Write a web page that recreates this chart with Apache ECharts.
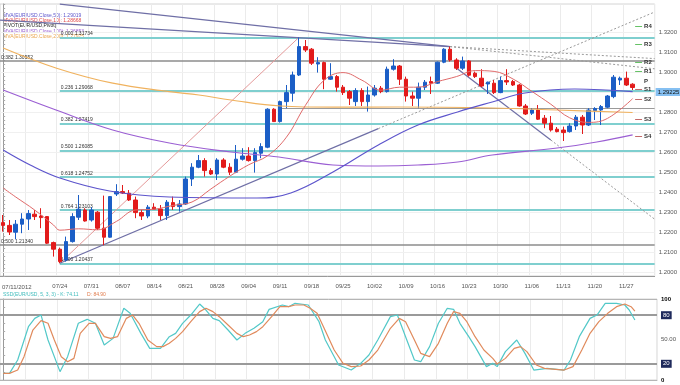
<!DOCTYPE html>
<html><head><meta charset="utf-8">
<script src="https://cdn.jsdelivr.net/npm/echarts@6/dist/echarts.min.js"></script>
<style>html,body{margin:0;padding:0;background:#fff}#c{width:680px;height:385px}</style>
</head><body><div id="c"></div>
<script>
// ---------- data ----------
const startDate = [2012, 6, 11];   // 2012-07-11, daily trading sessions
const nSlots = 104;                // 101 sessions + empty room on the right
const tickLabels = ['07/24','07/31','08/07','08/14','08/21','08/28','09/04','09/11','09/18','09/25','10/02','10/09','10/16','10/23','10/30','11/06','11/13','11/20','11/27'];
const gridDates = ['07/17'].concat(tickLabels);
const priceTicks = [1.20,1.21,1.22,1.23,1.24,1.25,1.26,1.27,1.28,1.29,1.30,1.31,1.32];
// [open, close, low, high]
const candles = [
[1.2247,1.2233,1.2202,1.2285],[1.2233,1.2200,1.2185,1.2260],[1.2199,1.2239,1.2164,1.2260],[1.2239,1.2265,1.2194,1.2294],[1.2265,1.2292,1.2210,1.2310],
[1.2289,1.2277,1.2260,1.2310],[1.2280,1.2272,1.2219,1.2319],[1.2277,1.2144,1.2140,1.2280],[1.2147,1.2114,1.2077,1.2152],[1.2114,1.2052,1.2044,1.2122],
[1.2060,1.2152,1.2052,1.2177],[1.2152,1.2277,1.2147,1.2294],[1.2274,1.2314,1.2260,1.2385],[1.2310,1.2255,1.2252,1.2319],[1.2260,1.2310,1.2252,1.2324],
[1.2299,1.2219,1.2210,1.2305],[1.2219,1.2174,1.2134,1.2382],[1.2174,1.2377,1.2172,1.2380],[1.2390,1.2402,1.2380,1.2439],[1.2402,1.2395,1.2390,1.2435],
[1.2394,1.2360,1.2355,1.2410],[1.2360,1.2297,1.2269,1.2377],[1.2297,1.2280,1.2260,1.2310],[1.2280,1.2324,1.2269,1.2335],[1.2324,1.2314,1.2310,1.2344],
[1.2315,1.2282,1.2260,1.2335],[1.2282,1.2349,1.2260,1.2360],[1.2347,1.2327,1.2310,1.2377],[1.2327,1.2340,1.2302,1.2360],[1.2340,1.2465,1.2335,1.2477],
[1.2465,1.2524,1.2430,1.2544],[1.2524,1.2557,1.2519,1.2585],[1.2557,1.2507,1.2477,1.2569],[1.2507,1.2490,1.2485,1.2519],[1.2490,1.2560,1.2460,1.2569],
[1.2560,1.2524,1.2519,1.2569],[1.2524,1.2499,1.2485,1.2544],[1.2499,1.2564,1.2494,1.2635],[1.2564,1.2580,1.2557,1.2619],[1.2580,1.2557,1.2552,1.2624],
[1.2557,1.2597,1.2497,1.2619],[1.2594,1.2627,1.2569,1.2644],[1.2624,1.2814,1.2619,1.2819],[1.2814,1.2752,1.2750,1.2819],[1.2752,1.2852,1.2747,1.2857],
[1.2852,1.2897,1.2819,1.2935],[1.2894,1.2985,1.2852,1.3002],[1.2985,1.3127,1.2980,1.3173],[1.3127,1.3110,1.3100,1.3160],[1.3114,1.3044,1.3035,1.3120],
[1.3040,1.3047,1.2997,1.3074],[1.3047,1.2964,1.2914,1.3052],[1.2964,1.2977,1.2960,1.3044],[1.2977,1.2924,1.2902,1.2985],[1.2924,1.2897,1.2885,1.2935],
[1.2902,1.2869,1.2835,1.2910],[1.2852,1.2907,1.2830,1.2919],[1.2907,1.2852,1.2830,1.2919],[1.2852,1.2885,1.2802,1.2927],[1.2885,1.2919,1.2877,1.2935],
[1.2919,1.2902,1.2894,1.2930],[1.2902,1.3014,1.2897,1.3027],[1.3014,1.3030,1.3007,1.3064],[1.3030,1.2964,1.2935,1.3035],[1.2964,1.2880,1.2852,1.2977],
[1.2880,1.2869,1.2830,1.2902],[1.2869,1.2924,1.2819,1.2947],[1.2924,1.2949,1.2910,1.2960],[1.2952,1.2944,1.2890,1.2977],[1.2944,1.3049,1.2940,1.3052],
[1.3049,1.3114,1.3044,1.3119],[1.3114,1.3060,1.3052,1.3127],[1.3060,1.3019,1.3010,1.3069],[1.3019,1.3055,1.3010,1.3077],[1.3055,1.2984,1.2977,1.3060],
[1.2994,1.2977,1.2970,1.3002],[1.2969,1.2930,1.2924,1.3014],[1.2940,1.2949,1.2890,1.2952],[1.2944,1.2897,1.2890,1.2960],[1.2897,1.2957,1.2894,1.2977],
[1.2957,1.2950,1.2935,1.3014],[1.2952,1.2935,1.2930,1.2960],[1.2935,1.2830,1.2827,1.2940],[1.2830,1.2790,1.2785,1.2840],[1.2794,1.2810,1.2785,1.2820],
[1.2810,1.2764,1.2760,1.2835],[1.2769,1.2744,1.2719,1.2785],[1.2744,1.2710,1.2702,1.2780],[1.2714,1.2702,1.2698,1.2725],[1.2710,1.2697,1.2655,1.2727],
[1.2702,1.2730,1.2697,1.2744],[1.2730,1.2774,1.2710,1.2785],[1.2774,1.2735,1.2690,1.2785],[1.2735,1.2810,1.2730,1.2819],[1.2807,1.2817,1.2760,1.2824],
[1.2810,1.2827,1.2735,1.2835],[1.2824,1.2880,1.2819,1.2885],[1.2877,1.2974,1.2869,1.2985],[1.2960,1.2969,1.2935,1.2977],[1.2969,1.2935,1.2930,1.3002],
[1.2939,1.29225,1.2910,1.2944]
];
const lastClose = 1.29225;
// moving averages: [session index, value]
const ma10 = [[0,1.2420],[2,1.2375],[5,1.2310],[8,1.2235],[9,1.2209],[12,1.2216],[15,1.2211],[18,1.2253],[21,1.2310],[24,1.2314],[27,1.2333],[30,1.2350],[33,1.2415],[36,1.2479],[39,1.2536],[42,1.2581],[45,1.2674],[48,1.2832],[51,1.2959],[54,1.2997],[57,1.2959],[60,1.2909],[63,1.2924],[66,1.2924],[69,1.2952],[72,1.2977],[75,1.3007],[78,1.3003],[81,1.2965],[84,1.2903],[87,1.2839],[90,1.2771],[93,1.2748],[96,1.2768],[100,1.28668]];
const ma50 = [[0,1.2610],[4.3,1.2535],[9,1.2470],[16.9,1.2405],[26.4,1.2375],[40.3,1.2370],[45.7,1.2395],[52.4,1.2500],[59.6,1.2635],[65.9,1.2735],[72.2,1.2800],[77.7,1.2850],[82.9,1.2895],[90.8,1.2915],[100,1.29019]];
const ma100 = [[0,1.2910],[8.4,1.2810],[17.4,1.2710],[26.4,1.2645],[36.2,1.2600],[43.8,1.2575],[52.4,1.2535],[59.6,1.2530],[65.9,1.2535],[72.2,1.2550],[77.7,1.2585],[88,1.2620],[94.3,1.2650],[100,1.26853]];
const ma200 = [[0,1.3120],[8.5,1.3019],[17.4,1.2944],[26.4,1.2902],[31.1,1.2885],[36.2,1.2860],[44.1,1.2830],[52.4,1.2824],[62.7,1.2825],[77.7,1.2820],[88,1.2810],[100,1.27975]];
// Fibonacci levels
const fibMain = [['0.000',1.31734],['0.236',1.29068],['0.382',1.27419],['0.500',1.26085],['0.618',1.24752],['0.764',1.23103],['1.000',1.20437]];
const fibGray = [['0.382',1.30552],['0.500',1.21340]];
const extraLevel = 1.2818;
// pivot levels
const pivots = [['R4',1.3230],['R3',1.31385],['R2',1.30465],['R1',1.30035],['P',1.2955],['S1',1.29135],['S2',1.28635],['S3',1.2765],['S4',1.26765]];
// trend lines: [solid start, solid end (= dotted start), dotted end]
const trendA = [[-0.5,1.3259],[71,1.3127],[103.5,1.3067]];
const trendB = [[9,1.3339],[71,1.3127],[103.5,1.3016]];
const trendUp = [[9,1.20437],[59.6,1.2717],[103.5,1.3300]];
const trendDown = [[72,1.3020],[87,1.2660],[103.5,1.2264]];
const fibDiag = [[9,1.20437],[47,1.31734]];
// slow stochastic (5,3,3)
const stochK = [[0,8.2],[1,8.2],[2.3,24.7],[4,65.8],[5,76.1],[6,80.2],[7.1,49.4],[9,10.3],[10.2,28.8],[11.9,70],[13.3,74.9],[14.6,70],[16,43.2],[17.4,51.4],[19.1,88.5],[20.1,82.3],[21.8,57.6],[23.2,39.1],[24.9,39.1],[26.3,53.5],[27.3,57.6],[28.4,70],[29.7,80.2],[31.1,93.8],[32.1,86.4],[33.2,76.1],[34.2,73.3],[35.6,61.7],[37,49.4],[38.3,57.6],[39.7,63.8],[41.1,72],[42.1,87.2],[44.2,92.6],[45.2,90.5],[46.2,94.7],[48.3,92.6],[50,72],[51,49.4],[53.1,18.5],[55.1,12.3],[56.6,20.6],[57.9,30.9],[59.3,49.4],[61.3,78.2],[62.4,80.2],[63.7,53.5],[65.1,24.7],[66.1,22.6],[67.5,41.2],[68.9,70],[70.3,88.5],[71.3,87.2],[72.3,70],[73.7,53.5],[74.7,41.2],[76.5,16.5],[77.5,20.6],[78.2,16.5],[79.5,35],[81.3,49.4],[82.6,32.9],[84,12.3],[86.1,14.4],[88.8,12.3],[89.8,24.7],[91.2,53.5],[92.9,76.1],[94,80.2],[95.3,94.7],[97.1,94.7],[98.4,92.6],[99.1,86.4],[100,74.11]];
const stochD = [[0,8.2],[1,8.2],[2.3,12.3],[3.3,28.8],[4.7,61.7],[6,73.3],[7.1,70],[8.1,49.4],[9.2,28.8],[10.2,22.6],[11.2,26.7],[12.2,57.6],[13.6,70],[14.6,70],[16,53.5],[17,51.4],[18.1,53.5],[19.5,76.1],[20.5,80.2],[21.5,70],[22.9,49.4],[24.3,41.2],[25.3,41.2],[26.3,45.3],[27.3,51.4],[28.4,59.7],[29.7,72],[31.1,84.4],[32.1,88.5],[33.2,84.4],[34.2,78.2],[35.6,67.9],[37,57.6],[38,53.5],[39,55.6],[40.1,59.7],[41.1,65.8],[42.5,78.2],[43.8,90.5],[45.2,90.5],[46.2,92.6],[47.6,92.6],[48.6,88.5],[49.7,82.3],[50.7,65.8],[52.4,37],[53.8,20.6],[55.1,16.5],[56.6,17.3],[57.9,24.7],[59.3,37],[61.3,63.8],[62.7,76.1],[63.7,72],[65.1,49.4],[66.1,32.9],[67.5,28.8],[68.9,45.3],[70.3,70],[71.3,84.4],[72.3,82.3],[73.4,72],[74.7,53.5],[76.1,37],[77.5,26.7],[78.2,19.8],[79.5,26.7],[80.9,39.1],[81.9,41.2],[82.9,35],[84.4,18.5],[85.7,14.4],[88.8,12.3],[90.2,16.5],[91.6,37],[92.9,57.6],[94.3,72],[95.7,82.3],[97.1,90.5],[98.4,93.8],[99.4,90.5],[100,84.9]];
const stochLevels = [20, 80];

// ---------- build ----------
const cats = [];
(function(){
  const d = new Date(Date.UTC(startDate[0], startDate[1], startDate[2]));
  while (cats.length < nSlots) {
    const wd = d.getUTCDay();
    if (wd !== 0 && wd !== 6) {
      cats.push(String(d.getUTCMonth()+1).padStart(2,'0') + '/' + String(d.getUTCDate()).padStart(2,'0'));
    }
    d.setUTCDate(d.getUTCDate()+1);
  }
})();
const FONT = 'Liberation Sans';
const xMax = nSlots - 0.5;

function seg(p1, p2, style) {
  return [{coord: p1, lineStyle: style}, {coord: p2}];
}
const trendCol = '#6f6fa6';
const dotted = {color: '#9a9a9a', width: 1, type: [2, 2]};
const marks = [];
priceTicks.forEach(v => marks.push([{coord: [-0.5, v], lineStyle: {color: '#f0f0f0', width: 1, type: 'solid'}}, {coord: [xMax, v]}]));
fibGray.forEach(f => marks.push([{coord: [-0.5, f[1]], lineStyle: {color: '#8c8c8c', width: 1.5, type: 'solid'},
  label: {show: true, position: 'insideStartTop', distance: 1, formatter: f[0] + ' ' + f[1].toFixed(5), fontSize: 5, color: '#333', fontFamily: FONT}}, {coord: [xMax, f[1]]}]));
marks.push(seg([44, extraLevel], [xMax, extraLevel], {color: '#9a9a9a', width: 1, type: 'solid'}));
fibMain.forEach(f => marks.push([{coord: [9, f[1]], lineStyle: {color: '#7fcfcf', width: 2, type: 'solid'},
  label: {show: true, position: 'insideStartTop', distance: 1, formatter: f[0] + ' ' + f[1].toFixed(5), fontSize: 5, color: '#333', fontFamily: FONT}}, {coord: [xMax, f[1]]}]));
marks.push(seg(fibDiag[0], fibDiag[1], {color: '#e59a9a', width: 1, type: 'solid'}));
[trendA, trendB, trendUp, trendDown].forEach(t => {
  marks.push(seg(t[0], t[1], {color: trendCol, width: 1.2, type: 'solid'}));
  marks.push(seg(t[1], t[2], dotted));
});
pivots.forEach(p => {
  const col = p[0][0] === 'R' ? '#66c266' : (p[0][0] === 'S' ? '#c46a6a' : 'rgba(0,0,0,0)');
  marks.push([{coord: [100.4, p[1]], lineStyle: {color: col, width: 1, type: 'solid'},
    label: {show: true, position: 'end', distance: 2, formatter: p[0], fontSize: 6, fontWeight: 'bold', color: '#333', fontFamily: FONT, padding: [3, 0, 0, 0]}},
    {coord: [101.5, p[1]]}]);
});
marks.push({yAxis: lastClose, lineStyle: {color: 'rgba(0,0,0,0)'},
  label: {show: true, position: 'end', distance: 1, formatter: lastClose.toFixed(5), fontSize: 6, color: '#111',
    backgroundColor: '#86c0f2', padding: [1, 2], fontFamily: FONT}});

const stochMarks = [];
stochLevels.forEach(v => stochMarks.push({yAxis: v, lineStyle: {color: '#9a9a9a', width: 2, type: 'solid'}}));
[0, 100].forEach(v => stochMarks.push({yAxis: v, lineStyle: {color: '#b5b5b5', width: 1, type: 'solid'}}));

const chart = echarts.init(document.getElementById('c'), null, {renderer: 'canvas'});
const option = {
  animation: false,
  backgroundColor: '#ffffff',
  textStyle: {fontFamily: FONT},
  grid: [
    {left: 0, top: 4, width: 657, height: 272, show: true, borderColor: '#d4d4d4', borderWidth: 1},
    {left: 0, top: 299, width: 657, height: 81, show: true, borderColor: '#d4d4d4', borderWidth: 1}
  ],
  xAxis: [
    {type: 'category', gridIndex: 0, data: cats, boundaryGap: true,
      axisLine: {lineStyle: {color: '#999'}},
      axisTick: {interval: 0, length: 2, lineStyle: {color: '#999'}},
      axisLabel: {interval: (i, v) => tickLabels.indexOf(v) >= 0, fontSize: 6, color: '#555', margin: 7, fontFamily: FONT},
      splitLine: {show: true, interval: (i, v) => gridDates.indexOf(v) >= 0, lineStyle: {color: '#ebebeb'}}},
    {type: 'value', gridIndex: 0, min: -0.5, max: xMax, show: false},
    {type: 'category', gridIndex: 1, data: cats, boundaryGap: true,
      axisLine: {show: true, lineStyle: {color: '#bbb'}}, axisTick: {show: false}, axisLabel: {show: false},
      splitLine: {show: true, interval: (i, v) => gridDates.indexOf(v) >= 0, lineStyle: {color: '#ebebeb'}}},
    {type: 'value', gridIndex: 1, min: -0.5, max: xMax, show: false}
  ],
  yAxis: [
    {type: 'value', gridIndex: 0, position: 'right', min: 1.198, max: 1.334, interval: 0.002,
      axisLine: {show: true, lineStyle: {color: '#999'}},
      axisTick: {show: true, length: 2, lineStyle: {color: '#aaa'}},
      axisLabel: {fontSize: 6, color: '#555', margin: 4, fontFamily: FONT,
        formatter: v => (priceTicks.some(t => Math.abs(t - v) < 1e-7) ? v.toFixed(4) : '')},
      splitLine: {show: false}},
    {type: 'value', gridIndex: 1, position: 'right', min: 0, max: 100, interval: 10,
      axisLine: {show: true, lineStyle: {color: '#999'}},
      axisTick: {show: true, length: 2, lineStyle: {color: '#aaa'}},
      axisLabel: {fontSize: 6, color: '#555', margin: 4, fontFamily: FONT,
        formatter: v => {
          if (v === 100) return '{c|100}';
          if (v === 80) return '{b|80}';
          if (v === 50) return '50.00';
          if (v === 20) return '{b|20}';
          if (v === 0) return '{c|0}';
          return '';
        },
        rich: {b: {backgroundColor: '#1f2a5c', color: '#fff', padding: [1, 2], fontSize: 6, fontFamily: FONT},
               c: {color: '#000', fontWeight: 'bold', fontSize: 6, fontFamily: FONT}}},
      splitLine: {show: false}}
  ],
  series: [
    {type: 'line', xAxisIndex: 1, yAxisIndex: 0, data: [], silent: true, z: 1,
      markLine: {symbol: ['none', 'none'], silent: true, animation: false, z: 1, label: {show: false}, data: marks}},
    {type: 'candlestick', xAxisIndex: 0, yAxisIndex: 0, data: candles, barWidth: 4, z: 3,
      itemStyle: {color: '#1b5ec6', color0: '#e21b1b', borderColor: '#1b5ec6', borderColor0: '#e21b1b', borderWidth: 1}},
    {type: 'line', xAxisIndex: 1, yAxisIndex: 0, data: ma200, smooth: 0.4, showSymbol: false, z: 4, lineStyle: {color: '#f0b25e', width: 1.2}},
    {type: 'line', xAxisIndex: 1, yAxisIndex: 0, data: ma100, smooth: 0.4, showSymbol: false, z: 4, lineStyle: {color: '#9b5fd3', width: 1.2}},
    {type: 'line', xAxisIndex: 1, yAxisIndex: 0, data: ma50, smooth: 0.4, showSymbol: false, z: 4, lineStyle: {color: '#5d55cc', width: 1.2}},
    {type: 'line', xAxisIndex: 1, yAxisIndex: 0, data: ma10, smooth: 0.4, showSymbol: false, z: 4, lineStyle: {color: '#e06a6a', width: 1}},
    {type: 'line', xAxisIndex: 3, yAxisIndex: 1, data: stochK, showSymbol: false, z: 4, lineStyle: {color: '#52c8c8', width: 1.2},
      markLine: {symbol: ['none', 'none'], silent: true, label: {show: false}, z: 1, data: stochMarks}},
    {type: 'line', xAxisIndex: 3, yAxisIndex: 1, data: stochD, showSymbol: false, z: 4, lineStyle: {color: '#e08a5c', width: 1.2}}
  ],
  graphic: [
    {type: 'text', x: 3, y: 15.5, style: {text: 'MVA(EUR/USD.Close,50): 1.29019', fill: '#5d55cc', font: '5px "Liberation Sans"', verticalAlign: 'middle'}},
    {type: 'text', x: 3, y: 20.7, style: {text: 'MVA(EUR/USD.Close,10): 1.28668', fill: '#e04848', font: '5px "Liberation Sans"', verticalAlign: 'middle'}},
    {type: 'text', x: 3, y: 25.9, style: {text: 'PIVOT(EUR/USD,Pivot)', fill: '#222', font: '5px "Liberation Sans"', verticalAlign: 'middle'}},
    {type: 'text', x: 3, y: 31.4, style: {text: 'MVA(EUR/USD.Close,100): 1.26853', fill: '#9b5fd3', font: '5px "Liberation Sans"', verticalAlign: 'middle'}},
    {type: 'text', x: 3, y: 36.8, style: {text: 'MVA(EUR/USD.Close,200): 1.27975', fill: '#eaa64e', font: '5px "Liberation Sans"', verticalAlign: 'middle'}},
    {type: 'text', x: 2, y: 287, style: {text: '07/11/2012', fill: '#555', font: '6px "Liberation Sans"', verticalAlign: 'middle'}},
    {type: 'text', x: 3, y: 294.5, style: {text: 'SSD(EUR/USD, 5, 3, 3) - K: 74.11', fill: '#3fbcbc', font: '5px "Liberation Sans"', verticalAlign: 'middle'}},
    {type: 'text', x: 87, y: 294.5, style: {text: 'D: 84.90', fill: '#e07a4a', font: '5px "Liberation Sans"', verticalAlign: 'middle'}}
  ]
};
chart.setOption(option);
</script>
</body></html>
